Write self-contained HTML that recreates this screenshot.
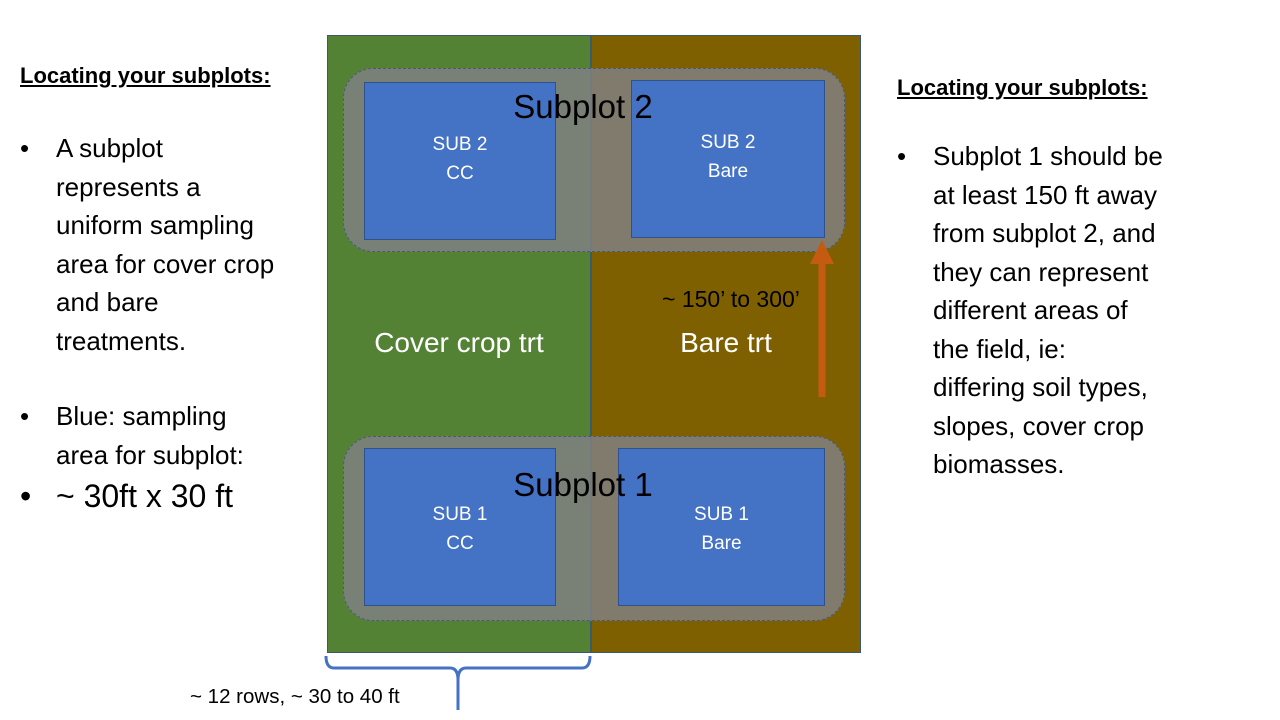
<!DOCTYPE html>
<html><head><meta charset="utf-8"><style>
body{margin:0;width:1280px;height:720px;background:#fff;position:relative;overflow:hidden;font-family:"Liberation Sans",sans-serif}
.a{position:absolute}
.t{font-family:"Liberation Sans",sans-serif;color:#000;white-space:nowrap}
.blue{position:absolute;background:#4472C4;border:1px solid #2F528F;box-sizing:border-box;color:#fff;font-size:19px;text-align:center;line-height:29px}
.ov{position:absolute;background:rgba(128,128,128,0.85);border:1px dashed #4a5a7a;border-radius:30px;box-sizing:border-box}
ul{margin:0;padding:0;list-style:none}
li{position:relative;padding-left:36px}
li:before{content:"•";position:absolute;left:0}
</style></head><body>
<div class="a" style="left:327px;top:35px;width:264px;height:618px;background:#548235;border:1px solid #3b5a6e;box-sizing:border-box"></div>
<div class="a" style="left:591px;top:35px;width:270px;height:618px;background:#7F6000;border:1px solid #3b5a6e;box-sizing:border-box"></div>

<div class="a t" style="left:327px;top:327px;width:264px;text-align:center;color:#fff;font-size:28px">Cover crop trt</div>
<div class="a t" style="left:591px;top:327px;width:270px;text-align:center;color:#fff;font-size:28px">Bare trt</div>

<div class="ov" style="left:343px;top:68px;width:502px;height:184px"></div>
<div class="ov" style="left:343px;top:436px;width:502px;height:185px"></div>

<div class="blue" style="left:364px;top:82px;width:192px;height:158px;padding-top:47px">SUB 2<br>CC</div>
<div class="blue" style="left:631px;top:80px;width:194px;height:158px;padding-top:47px">SUB 2<br>Bare</div>
<div class="blue" style="left:364px;top:448px;width:192px;height:158px;padding-top:51px">SUB 1<br>CC</div>
<div class="blue" style="left:618px;top:448px;width:207px;height:158px;padding-top:51px">SUB 1<br>Bare</div>

<div class="a t" style="left:483px;top:88px;width:200px;text-align:center;font-size:33px">Subplot 2</div>
<div class="a t" style="left:483px;top:466px;width:200px;text-align:center;font-size:33px">Subplot 1</div>

<svg class="a" style="left:0;top:0" width="1280" height="720">
<line x1="822" y1="397" x2="822" y2="262" stroke="#C55A11" stroke-width="7"/>
<polygon points="810,264 834,264 822,240" fill="#C55A11"/>
<path d="M326,656 Q326,668 334,668 L450,668 Q458,668 458,680 L458,710 M458,680 Q458,668 466,668 L582,668 Q590,668 590,656" fill="none" stroke="#4472C4" stroke-width="3"/>
</svg>
<div class="a t" style="left:662px;top:286px;font-size:23px">~ 150’ to 300’</div>
<div class="a t" style="left:190px;top:685px;font-size:20.5px">~ 12 rows, ~ 30 to 40 ft</div>

<div class="a t" style="left:20px;top:63px;font-size:22px;font-weight:bold;text-decoration:underline">Locating your subplots:</div>
<div class="a t" style="left:20px;top:129px;font-size:26px;line-height:38.5px">
<ul><li>A subplot<br>represents a<br>uniform sampling<br>area for cover crop<br>and bare<br>treatments.</li></ul>
<ul style="margin-top:37px"><li>Blue: sampling<br>area for subplot:</li><li style="font-size:32px;line-height:44px">~ 30ft x 30 ft</li></ul>
</div>

<div class="a t" style="left:897px;top:75px;font-size:22px;font-weight:bold;text-decoration:underline">Locating your subplots:</div>
<div class="a t" style="left:897px;top:137px;font-size:26px;line-height:38.5px">
<ul><li>Subplot 1 should be<br>at least 150 ft away<br>from subplot 2, and<br>they can represent<br>different areas of<br>the field, ie:<br>differing soil types,<br>slopes, cover crop<br>biomasses.</li></ul>
</div>
</body></html>
